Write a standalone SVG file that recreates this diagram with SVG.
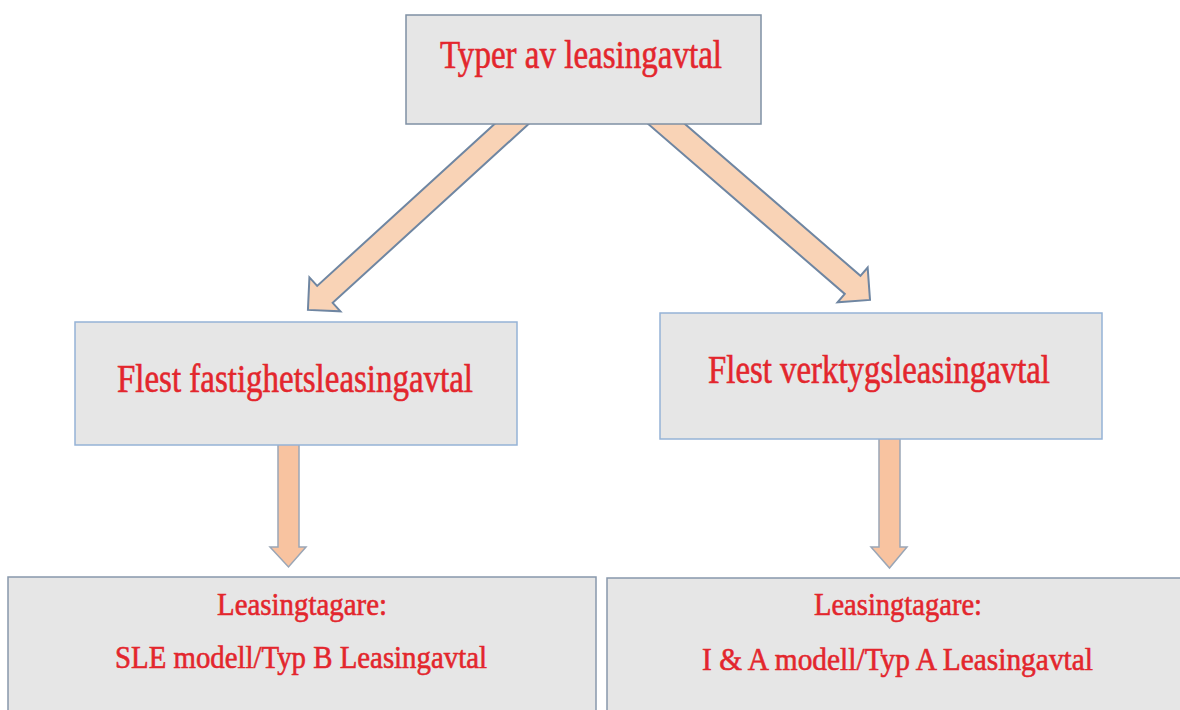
<svg xmlns="http://www.w3.org/2000/svg" width="1180" height="710" viewBox="0 0 1180 710">
<style>
.box{fill:#e6e6e6;stroke-width:1.5}
.b1{stroke:#7f90a4}
.b2{stroke:#95b3d6}
.b3{stroke:#8898ac}
.t{font-family:"Liberation Serif","Times New Roman",serif;fill:#e3262d;stroke:#e3262d;stroke-width:0.6;text-anchor:start}
.big{font-size:39px}
.small{font-size:32px}
.diag{fill:#f9d3b6;stroke:#6f86a2;stroke-width:2;stroke-linejoin:miter}
.down{fill:#f8c3a0;stroke:#9aa6b6;stroke-width:1.5;stroke-linejoin:miter}
</style>
<rect width="1180" height="710" fill="#ffffff"/>
<g id="connectors">
  <path class="diag" transform="translate(526.3,110.5) rotate(137.6)" d="M0,-11.5 L272.7,-11.5 L272.7,-23 L295.7,0 L272.7,23 L272.7,11.5 L0,11.5 Z"/>
  <path class="diag" transform="translate(651.4,110.9) rotate(40.85)" d="M0,-12 L266,-12 L266,-23 L289,0 L266,23 L266,12 L0,12 Z"/>
  <path class="down" d="M278,440 L299,440 L299,547 L306,547 L288.5,567 L270,547 L278,547 Z"/>
  <path class="down" d="M879,435 L900,435 L900,547 L907,547 L889.5,568 L871,547 L879,547 Z"/>
</g>
<g id="node-top">
  <rect class="box b1" x="406" y="15" width="355" height="109"/>
  <text class="t big" x="440" y="68" textLength="282" lengthAdjust="spacingAndGlyphs">Typer av leasingavtal</text>
</g>
<g id="node-left">
  <rect class="box b2" x="75" y="322" width="442" height="123"/>
  <text class="t big" x="117" y="392" textLength="356" lengthAdjust="spacingAndGlyphs">Flest fastighetsleasingavtal</text>
</g>
<g id="node-right">
  <rect class="box b2" x="660" y="313" width="442" height="126"/>
  <text class="t big" x="708" y="383" textLength="342" lengthAdjust="spacingAndGlyphs">Flest verktygsleasingavtal</text>
</g>
<g id="node-bottom-left">
  <rect class="box b3" x="8" y="577" width="588" height="150"/>
  <text class="t small" x="217" y="615" textLength="170" lengthAdjust="spacingAndGlyphs">Leasingtagare:</text>
  <text class="t small" x="115" y="668" textLength="372" lengthAdjust="spacingAndGlyphs">SLE modell/Typ B Leasingavtal</text>
</g>
<g id="node-bottom-right">
  <rect class="box b3" x="607" y="578" width="600" height="150"/>
  <text class="t small" x="814" y="615" textLength="168" lengthAdjust="spacingAndGlyphs">Leasingtagare:</text>
  <text class="t small" x="702" y="670" textLength="391" lengthAdjust="spacingAndGlyphs">I &amp; A modell/Typ A Leasingavtal</text>
</g>
</svg>
